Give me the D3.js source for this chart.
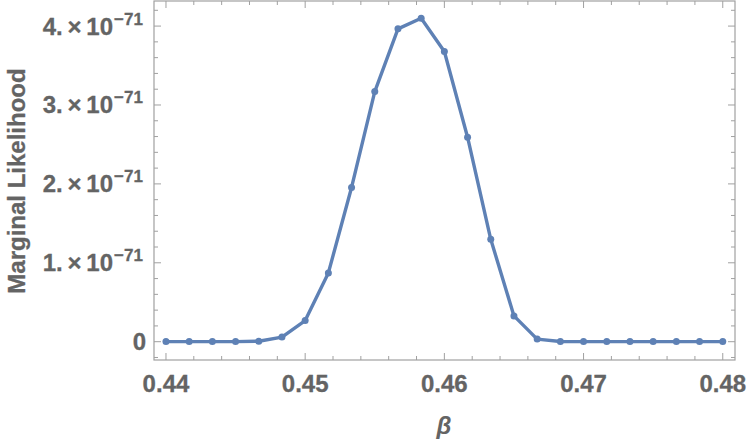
<!DOCTYPE html>
<html><head><meta charset="utf-8">
<script src="https://cdn.jsdelivr.net/npm/d3@7"></script>
<style>body{margin:0;background:#fff}svg{display:block}</style>
</head><body>
<script>
const betaValues = [0.44,0.441667,0.443333,0.445,0.446667,0.448333,0.45,0.451667,0.453333,0.455,0.456667,0.458333,0.46,0.461667,0.463333,0.465,0.466667,0.468333,0.47,0.471667,0.473333,0.475,0.476667,0.478333,0.48];
const likelihood = [0.001,0.001,0.001,0.001,0.006,0.058,0.268,0.872,1.955,3.17,3.965,4.1,3.678,2.592,1.298,0.327,0.033,0.002,0.001,0.001,0.001,0.001,0.001,0.001,0.001]; // ×10^-71
const xTicks = [0.44,0.45,0.46,0.47,0.48];
const yTicks = [0,1,2,3,4];

const W=750,H=444;
const L=154,R=735,T=1,B=360;
const svg=d3.select("body").append("svg").attr("width",W).attr("height",H);
const x=d3.scaleLinear().domain([0.43914,0.48088]).range([L,R]);
const y=d3.scaleLinear().domain([-0.232,4.318]).range([B,T]);
const frameCol="#a0a0a0", txtCol="#646464", font="'Liberation Sans', Arial, sans-serif";

// frame
svg.append("rect").attr("x",L).attr("y",T).attr("width",R-L).attr("height",B-T)
  .attr("fill","none").attr("stroke",frameCol).attr("stroke-width",1.2);

const xMinor=d3.range(0.44,0.4801,0.002);
const yMinor=d3.range(-0.2,4.31,0.2);
const g=svg.append("g").attr("stroke",frameCol).attr("stroke-width",1);
xMinor.forEach(v=>{
  const major=xTicks.some(t=>Math.abs(t-v)<1e-6);
  const len=major?7:4;
  g.append("line").attr("x1",x(v)).attr("x2",x(v)).attr("y1",B).attr("y2",B-len);
  g.append("line").attr("x1",x(v)).attr("x2",x(v)).attr("y1",T).attr("y2",T+len);
});
yMinor.forEach(v=>{
  const major=yTicks.some(t=>Math.abs(t-v)<1e-6);
  const len=major?7:4;
  g.append("line").attr("y1",y(v)).attr("y2",y(v)).attr("x1",L).attr("x2",L+len);
  g.append("line").attr("y1",y(v)).attr("y2",y(v)).attr("x1",R).attr("x2",R-len);
});

// x tick labels
svg.append("g").selectAll("text").data(xTicks).join("text")
  .attr("x",d=>x(d)).attr("y",392).attr("text-anchor","middle")
  .attr("font-family",font).attr("font-weight","bold").attr("font-size",24)
  .attr("fill",txtCol).attr("stroke",txtCol).attr("stroke-width",0.3).text(d=>d.toFixed(2));

// y tick labels
const yl=svg.append("g").attr("font-family",font).attr("font-weight","bold").attr("fill",txtCol)
  .attr("stroke",txtCol).attr("stroke-width",0.3);
yTicks.forEach(v=>{
  if(v===0){
    yl.append("text").attr("x",146).attr("y",y(v)+8.5).attr("text-anchor","end").attr("font-size",24).text("0");
  } else {
    yl.append("text").attr("x",113).attr("y",y(v)+8.5).attr("text-anchor","end").attr("font-size",24)
      .attr("xml:space","preserve").text(v+".\u2009\u00d7\u200910");
    yl.append("text").attr("x",114).attr("y",y(v)-1.5).attr("text-anchor","start").attr("font-size",17)
      .text("\u221271");
  }
});

// axis labels
svg.append("text").attr("transform","translate(25,181) rotate(-90)").attr("text-anchor","middle")
  .attr("font-family",font).attr("font-weight","bold").attr("font-size",24).attr("fill",txtCol)
  .attr("stroke",txtCol).attr("stroke-width",0.3)
  .text("Marginal Likelihood");
svg.append("text").attr("x",444).attr("y",434).attr("text-anchor","middle")
  .attr("font-family",font).attr("font-weight","bold").attr("font-style","italic").attr("font-size",24).attr("fill",txtCol)
  .text("\u03b2");

// data
const data=betaValues.map((b,i)=>({b,v:likelihood[i]}));
const lineCol="#5E81B5";
svg.append("path").datum(data).attr("fill","none").attr("stroke",lineCol).attr("stroke-width",3.4)
  .attr("stroke-linejoin","round")
  .attr("d",d3.line().x(d=>x(d.b)).y(d=>y(d.v)));
svg.append("g").selectAll("circle").data(data).join("circle")
  .attr("cx",d=>x(d.b)).attr("cy",d=>y(d.v)).attr("r",3.5).attr("fill",lineCol);
</script>
</body></html>
